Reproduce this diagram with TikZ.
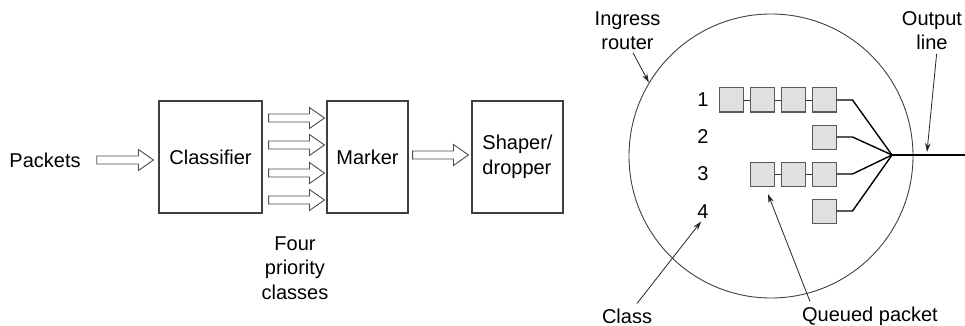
\documentclass[tikz,border=0pt]{standalone}
\usepackage{fontspec}
\setmainfont{Liberation Sans}
\usetikzlibrary{calc,arrows.meta}
\newcommand\hollowarr[3]{%
  \draw[hollow] let \p1=(#1), \p2=(#2), \p3=(0,#3) in
    (\x1,\y3+4pt) -- (\x2-15pt,\y3+4pt) -- (\x2-15pt,\y3+10.5pt) -- (\x2,\y3)
    -- (\x2-15pt,\y3-10.5pt) -- (\x2-15pt,\y3-4pt) -- (\x1,\y3-4pt) -- cycle;}
\begin{document}
\begin{tikzpicture}[x=1pt,y=-1pt,
  every node/.style={font=\fontsize{20}{24.5}\selectfont, inner sep=0pt},
  block/.style={draw=black!75, line width=1.1pt, minimum height=112pt},
  hollow/.style={draw=black!70, line width=0.9pt, fill=white},
  pkt/.style={draw=black!65, fill=black!12, line width=1pt, minimum width=24pt, minimum height=24pt},
  link/.style={black!80, line width=0.9pt},
  feed/.style={black, line width=1.4pt},
  pointer/.style={black!85, line width=0.8pt, -{Stealth[length=9pt,width=5.5pt]}},
  ring/.style={circle, draw=black!75, line width=0.9pt, minimum size=284pt}]
\useasboundingbox (0,0) rectangle (965,326);

% ---- left part ----
\node (packets) at (45,160) {Packets};
\node[block, minimum width=103pt] (classifier) at (210.5,157) {Classifier};
\node[block, minimum width=81pt] (marker) at (367.5,157) {Marker};
\node[block, minimum width=91pt, align=left] (shaper) at (517.5,157) {Shaper/\\dropper};
\node[align=center] (four) at (295,268) {Four\\priority\\classes};

\hollowarr{[xshift=16pt]packets.east}{[xshift=-5pt]classifier.west}{160}
\hollowarr{[xshift=6pt]classifier.east}{[xshift=-2pt]marker.west}{118}
\hollowarr{[xshift=6pt]classifier.east}{[xshift=-2pt]marker.west}{145}
\hollowarr{[xshift=6pt]classifier.east}{[xshift=-2pt]marker.west}{173}
\hollowarr{[xshift=6pt]classifier.east}{[xshift=-2pt]marker.west}{200}
\hollowarr{[xshift=4pt]marker.east}{[xshift=-3pt]shaper.west}{155}

% ---- right part ----
\node[ring] (router) at (771,156) {};
\node (c1) at (703,100) {1};
\node (c2) at (703,137) {2};
\node (c3) at (703,174) {3};
\node (c4) at (703,212) {4};

\node[pkt] (q11) at (731,100) {};
\node[pkt] (q12) at (762,100) {};
\node[pkt] (q13) at (793,100) {};
\node[pkt] (q14) at (824,100) {};
\node[pkt] (q24) at (824,137) {};
\node[pkt] (q31) at (762,174) {};
\node[pkt] (q32) at (793,174) {};
\node[pkt] (q34) at (824,174) {};
\node[pkt] (q44) at (824,211) {};

\draw[link] (q11) -- (q12);
\draw[link] (q12) -- (q13);
\draw[link] (q13) -- (q14);
\draw[link] (q31) -- (q32);
\draw[link] (q32) -- (q34);

\coordinate (merge) at (892,155);
\coordinate (outend) at (965,155);
\draw[feed] (q14.east) -- ++(16,0) -- (merge);
\draw[feed] (q24.east) -- ++(16,0) -- (merge);
\draw[feed] (q34.east) -- ++(16,0) -- (merge);
\draw[feed] (q44.east) -- ++(16,0) -- (merge);
\draw[feed] (merge) -- (outend);

\node[align=center] (ingress) at (627.5,30.5) {Ingress\\router};
\node[align=center] (outlbl) at (932,30.5) {Output\\line};
\node (classlbl) at (627,316) {Class};
\node (queued) at (870,316) {Queued packet};

\draw[pointer, shorten <=3pt] ([xshift=4pt]ingress.south) -- (router.149);
\draw[pointer, shorten <=4pt] ([xshift=5pt]outlbl.south) -- ([xshift=35pt,yshift=3pt]merge);
\draw[pointer, shorten >=3pt] ([xshift=10pt,yshift=5pt]classlbl.north) -- (c4.south);
\draw[pointer, shorten >=8pt] ([xshift=-60pt,yshift=5pt]queued.north) -- ([xshift=3pt]q31.south);
\end{tikzpicture}
\end{document}
